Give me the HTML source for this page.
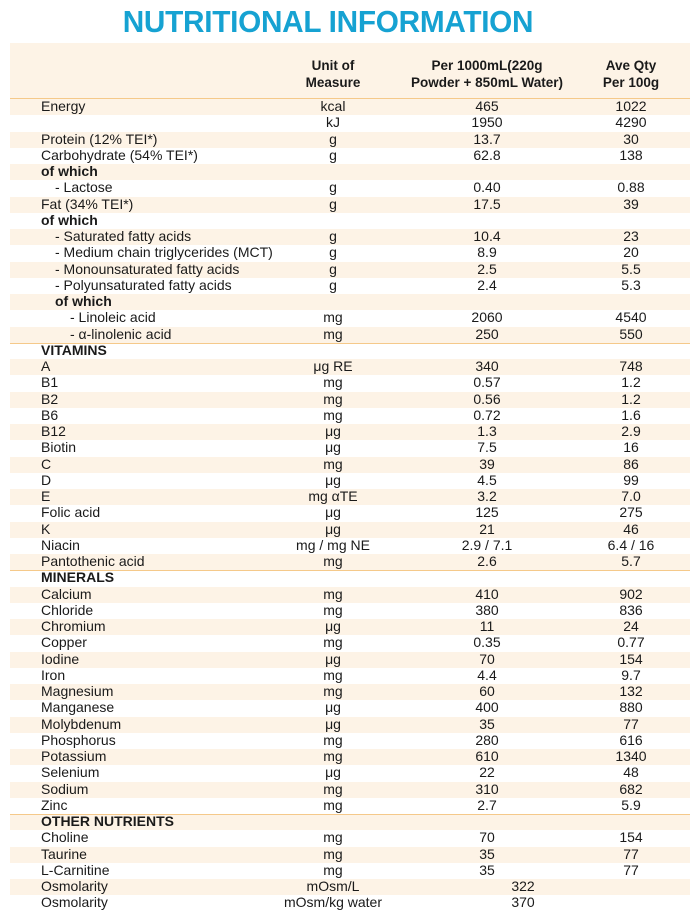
<!DOCTYPE html>
<html><head><meta charset="utf-8"><style>
body{margin:0;width:700px;height:923px;background:#fff;font-family:"Liberation Sans",sans-serif;color:#1a1a1a;position:relative;overflow:hidden}
.title{position:absolute;top:4px;left:0;width:656px;text-align:center;font-size:31px;font-weight:bold;color:#16a2d2;transform:scaleX(0.96);transform-origin:328px 0;letter-spacing:-0.3px}
.hdr{position:absolute;top:43px;left:10px;width:680px;height:56px;background:#fdf3e6}
.hdr div{position:absolute;top:14px;font-weight:bold;font-size:13.5px;line-height:17px;text-align:center}
.rows{position:absolute;top:99px;left:10px;width:680px}
.r{height:16.25px;line-height:16.25px;font-size:14px;position:relative;white-space:nowrap}
.r:nth-child(odd){background:#fdf3e6}
.r span{position:absolute;top:-1px}
.l{left:31px}.l2{left:45px}.l3{left:60px}
.u{left:233px;width:180px;text-align:center}
.p{left:387px;width:180px;text-align:center}
.a{left:531px;width:180px;text-align:center}
.o{left:423px;width:180px;text-align:center}
.b{font-weight:bold}
.ln{position:absolute;left:10px;width:680px;border-top:1.5px solid #f5c98a}
</style></head><body>
<div class="title">NUTRITIONAL INFORMATION</div>
<div class="hdr">
<div style="left:263px;width:120px">Unit of<br>Measure</div>
<div style="left:387px;width:180px">Per 1000mL(220g<br>Powder + 850mL Water)</div>
<div style="left:561px;width:120px">Ave Qty<br>Per 100g</div>
</div>
<div class="rows">
<div class="r"><span class="l">Energy</span><span class="u">kcal</span><span class="p">465</span><span class="a">1022</span></div>
<div class="r"><span class="u">kJ</span><span class="p">1950</span><span class="a">4290</span></div>
<div class="r"><span class="l">Protein (12% TEI*)</span><span class="u">g</span><span class="p">13.7</span><span class="a">30</span></div>
<div class="r"><span class="l">Carbohydrate (54% TEI*)</span><span class="u">g</span><span class="p">62.8</span><span class="a">138</span></div>
<div class="r"><span class="l b">of which</span></div>
<div class="r"><span class="l2">- Lactose</span><span class="u">g</span><span class="p">0.40</span><span class="a">0.88</span></div>
<div class="r"><span class="l">Fat (34% TEI*)</span><span class="u">g</span><span class="p">17.5</span><span class="a">39</span></div>
<div class="r"><span class="l b">of which</span></div>
<div class="r"><span class="l2">- Saturated fatty acids</span><span class="u">g</span><span class="p">10.4</span><span class="a">23</span></div>
<div class="r"><span class="l2">- Medium chain triglycerides (MCT)</span><span class="u">g</span><span class="p">8.9</span><span class="a">20</span></div>
<div class="r"><span class="l2">- Monounsaturated fatty acids</span><span class="u">g</span><span class="p">2.5</span><span class="a">5.5</span></div>
<div class="r"><span class="l2">- Polyunsaturated fatty acids</span><span class="u">g</span><span class="p">2.4</span><span class="a">5.3</span></div>
<div class="r"><span class="l2 b">of which</span></div>
<div class="r"><span class="l3">- Linoleic acid</span><span class="u">mg</span><span class="p">2060</span><span class="a">4540</span></div>
<div class="r"><span class="l3">- α-linolenic acid</span><span class="u">mg</span><span class="p">250</span><span class="a">550</span></div>
<div class="r"><span class="l b">VITAMINS</span></div>
<div class="r"><span class="l">A</span><span class="u">μg RE</span><span class="p">340</span><span class="a">748</span></div>
<div class="r"><span class="l">B1</span><span class="u">mg</span><span class="p">0.57</span><span class="a">1.2</span></div>
<div class="r"><span class="l">B2</span><span class="u">mg</span><span class="p">0.56</span><span class="a">1.2</span></div>
<div class="r"><span class="l">B6</span><span class="u">mg</span><span class="p">0.72</span><span class="a">1.6</span></div>
<div class="r"><span class="l">B12</span><span class="u">μg</span><span class="p">1.3</span><span class="a">2.9</span></div>
<div class="r"><span class="l">Biotin</span><span class="u">μg</span><span class="p">7.5</span><span class="a">16</span></div>
<div class="r"><span class="l">C</span><span class="u">mg</span><span class="p">39</span><span class="a">86</span></div>
<div class="r"><span class="l">D</span><span class="u">μg</span><span class="p">4.5</span><span class="a">99</span></div>
<div class="r"><span class="l">E</span><span class="u">mg αTE</span><span class="p">3.2</span><span class="a">7.0</span></div>
<div class="r"><span class="l">Folic acid</span><span class="u">μg</span><span class="p">125</span><span class="a">275</span></div>
<div class="r"><span class="l">K</span><span class="u">μg</span><span class="p">21</span><span class="a">46</span></div>
<div class="r"><span class="l">Niacin</span><span class="u">mg / mg NE</span><span class="p">2.9 / 7.1</span><span class="a">6.4 / 16</span></div>
<div class="r"><span class="l">Pantothenic acid</span><span class="u">mg</span><span class="p">2.6</span><span class="a">5.7</span></div>
<div class="r"><span class="l b">MINERALS</span></div>
<div class="r"><span class="l">Calcium</span><span class="u">mg</span><span class="p">410</span><span class="a">902</span></div>
<div class="r"><span class="l">Chloride</span><span class="u">mg</span><span class="p">380</span><span class="a">836</span></div>
<div class="r"><span class="l">Chromium</span><span class="u">μg</span><span class="p">11</span><span class="a">24</span></div>
<div class="r"><span class="l">Copper</span><span class="u">mg</span><span class="p">0.35</span><span class="a">0.77</span></div>
<div class="r"><span class="l">Iodine</span><span class="u">μg</span><span class="p">70</span><span class="a">154</span></div>
<div class="r"><span class="l">Iron</span><span class="u">mg</span><span class="p">4.4</span><span class="a">9.7</span></div>
<div class="r"><span class="l">Magnesium</span><span class="u">mg</span><span class="p">60</span><span class="a">132</span></div>
<div class="r"><span class="l">Manganese</span><span class="u">μg</span><span class="p">400</span><span class="a">880</span></div>
<div class="r"><span class="l">Molybdenum</span><span class="u">μg</span><span class="p">35</span><span class="a">77</span></div>
<div class="r"><span class="l">Phosphorus</span><span class="u">mg</span><span class="p">280</span><span class="a">616</span></div>
<div class="r"><span class="l">Potassium</span><span class="u">mg</span><span class="p">610</span><span class="a">1340</span></div>
<div class="r"><span class="l">Selenium</span><span class="u">μg</span><span class="p">22</span><span class="a">48</span></div>
<div class="r"><span class="l">Sodium</span><span class="u">mg</span><span class="p">310</span><span class="a">682</span></div>
<div class="r"><span class="l">Zinc</span><span class="u">mg</span><span class="p">2.7</span><span class="a">5.9</span></div>
<div class="r"><span class="l b">OTHER NUTRIENTS</span></div>
<div class="r"><span class="l">Choline</span><span class="u">mg</span><span class="p">70</span><span class="a">154</span></div>
<div class="r"><span class="l">Taurine</span><span class="u">mg</span><span class="p">35</span><span class="a">77</span></div>
<div class="r"><span class="l">L-Carnitine</span><span class="u">mg</span><span class="p">35</span><span class="a">77</span></div>
<div class="r"><span class="l">Osmolarity</span><span class="u">mOsm/L</span><span class="o">322</span></div>
<div class="r"><span class="l">Osmolarity</span><span class="u">mOsm/kg water</span><span class="o">370</span></div>
</div>
<div class="ln" style="top:98px"></div>
<div class="ln" style="top:342.5px"></div>
<div class="ln" style="top:569.5px"></div>
<div class="ln" style="top:813.5px"></div>
</body></html>
